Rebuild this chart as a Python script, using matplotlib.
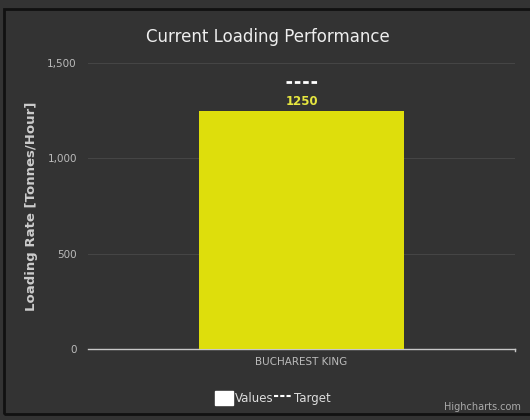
import matplotlib.pyplot as plt
from matplotlib.patches import Patch, Rectangle
from matplotlib.lines import Line2D

# data
categories = ['BUCHAREST KING']
values = [1250]
targets = [1400]
yticks = [0, 500, 1000, 1500]

bg = '#333333'
bar_color = '#dede0c'

fig = plt.figure(figsize=(5.3, 4.2), dpi=100, facecolor=bg)
# thin dark frame around the chart (open on the right)
fig.patches.append(Rectangle((0.008, 0.014), 1.05, 0.965, transform=fig.transFigure,
                             facecolor='none', edgecolor='#111111', lw=2, zorder=-5))

ax = fig.add_axes([0.166, 0.169, 0.806, 0.681])
ax.set_facecolor(bg)

x = range(len(categories))
ax.bar(x, values, width=0.48, color=bar_color, zorder=3)
for xi, v in zip(x, values):
    ax.text(xi, v + 15, str(v), ha='center', va='bottom', color='#e6e640',
            fontsize=8.5, fontweight='bold', zorder=4)
for xi, t in zip(x, targets):
    ax.plot([xi - 0.037, xi + 0.037], [t, t], color='white', lw=2,
            linestyle=(0, (2, 1)), zorder=4)

ax.set_xlim(-0.5, 0.5)
ax.set_ylim(0, 1500)
ax.set_yticks(yticks)
ax.set_yticklabels([f'{t:,}' for t in yticks])
ax.set_xticks(list(x))
ax.set_xticklabels(categories)
ax.tick_params(axis='y', length=0, colors='#bbbbbb', labelsize=7.5, pad=8)
ax.tick_params(axis='x', length=0, colors='#bbbbbb', labelsize=7.5, pad=6)
ax.grid(axis='y', color='#454545', lw=0.8, zorder=0)
for s in ['top', 'right', 'left']:
    ax.spines[s].set_visible(False)
ax.spines['bottom'].set_color('#c8c8c8')
ax.spines['bottom'].set_linewidth(1)
# end tick at the category boundary
ax.plot([0.5, 0.5], [0, -12], color='#c8c8c8', lw=1, clip_on=False)

ax.set_ylabel('Loading Rate [Tonnes/Hour]', color='#cccccc', fontsize=9.5,
              fontweight='bold', labelpad=7)
fig.text(0.505, 0.913, 'Current Loading Performance', ha='center', va='center',
         color='#eeeeee', fontsize=12)

handles = [Patch(facecolor='white', edgecolor='white'),
           Line2D([0], [0], color='white', lw=1.5, linestyle=(0, (2, 1)))]
fig.legend(handles, ['Values', 'Target'], loc='center', bbox_to_anchor=(0.515, 0.053),
           ncol=2, frameon=False, fontsize=8.5, labelcolor='#dddddd',
           handlelength=1.5, handleheight=1.5, handletextpad=0.2, columnspacing=0.05)
fig.text(0.982, 0.03, 'Highcharts.com', ha='right', va='center', color='#aaaaaa',
         fontsize=7)

fig.savefig('out.png', dpi=100, facecolor=fig.get_facecolor())
